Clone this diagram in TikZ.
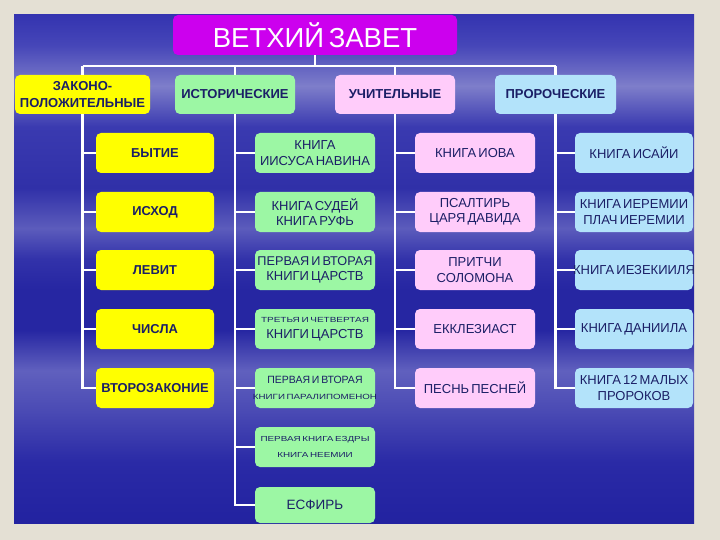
\documentclass[tikz,border=0pt]{standalone}
\usepackage{fontspec}
\setmainfont{Liberation Sans}[WordSpace=0.6]
\usepackage{graphicx}
\definecolor{pagebg}{HTML}{E4E0D4}
\definecolor{titlemag}{HTML}{CC00EE}
\definecolor{lawyel}{HTML}{FFFF00}
\definecolor{histgrn}{HTML}{9CF7A4}
\definecolor{wispink}{HTML}{FFCCFA}
\definecolor{prophblu}{HTML}{B3E3FA}
\definecolor{ink}{HTML}{1B1F66}
\definecolor{skyA}{HTML}{2222A0}
\definecolor{skyB}{HTML}{2A2AA6}
\definecolor{skyC}{HTML}{4A4AB4}
\definecolor{skyD}{HTML}{6060BE}
\definecolor{skyE}{HTML}{2626A2}
\definecolor{skyF}{HTML}{3232AA}
\definecolor{skyG}{HTML}{5C5CBC}
\definecolor{skyH}{HTML}{3030A8}
\definecolor{skyI}{HTML}{3A3AB0}
\definecolor{skyJ}{HTML}{7E7ECA}
\definecolor{skyK}{HTML}{4646B8}
\definecolor{skyL}{HTML}{3434B0}
\pgfdeclareverticalshading{sky}{100bp}{color(0bp)=(skyA); color(25bp)=(skyA); color(31bp)=(skyB); color(36bp)=(skyC); color(40bp)=(skyD); color(44bp)=(skyE); color(48bp)=(skyE); color(51bp)=(skyF); color(54bp)=(skyG); color(58bp)=(skyH); color(64bp)=(skyI); color(68bp)=(skyJ); color(72bp)=(skyK); color(75bp)=(skyL); color(100bp)=(skyL)}

\begin{document}
\begin{tikzpicture}[x=1pt,y=-1pt,
  headbox/.style={fill=titlemag, rounded corners=5pt, minimum width=284pt, minimum height=40pt, inner sep=0pt, text=white, font=\fontsize{27.5}{30}\selectfont},
  catbox/.style={rounded corners=5pt, minimum width=120pt, minimum height=39pt, inner sep=0pt, align=center, text=ink, font=\fontsize{13}{16.5}\selectfont\bfseries},
  bookbox/.style={rounded corners=5pt, minimum width=120pt, minimum height=40pt, inner sep=0pt, align=center, text=ink, font=\fontsize{13}{15.5}\selectfont},
  lawbox/.style={bookbox, minimum width=118pt, fill=lawyel, font=\fontsize{12.9}{15}\selectfont\bfseries},
  histbox/.style={bookbox, fill=histgrn},
  wisbox/.style={bookbox, fill=wispink},
  prophbox/.style={bookbox, minimum width=118pt, fill=prophblu},
  link/.style={draw=white, line width=2.5pt}]

\fill[pagebg] (0,0) rectangle (720,540);
\shade[shading=sky] (14,15) rectangle (694,523);
\useasboundingbox (0,0) rectangle (720,540);

\node[headbox] (title) at (315,35) {ВЕТХИЙ ЗАВЕТ};

\node[catbox, minimum width=135pt, fill=lawyel] (zak) at (82.5,94.5) {ЗАКОНО-\\ПОЛОЖИТЕЛЬНЫЕ};
\node[catbox, fill=histgrn] (ist) at (235,94.5) {ИСТОРИЧЕСКИЕ};
\node[catbox, fill=wispink] (uch) at (395,94.5) {УЧИТЕЛЬНЫЕ};
\node[catbox, minimum width=121pt, fill=prophblu] (pro) at (555.5,94.5) {ПРОРОЧЕСКИЕ};

\node[lawbox] (bytie) at (155,153) {БЫТИЕ};
\node[lawbox] (ishod) at (155,212) {ИСХОД};
\node[lawbox] (levit) at (155,270) {ЛЕВИТ};
\node[lawbox] (chisla) at (155,329) {ЧИСЛА};
\node[lawbox] (vtor) at (155,388) {ВТОРОЗАКОНИЕ};

\node[histbox] (iisus) at (315,153) {КНИГА\\ИИСУСА НАВИНА};
\node[histbox] (sudey) at (315,212) {КНИГА СУДЕЙ\\КНИГА РУФЬ};
\node[histbox] (carA) at (315,270) {\makebox[114pt]{\fontsize{12.7}{15.5}\selectfont ПЕРВАЯ И ВТОРАЯ}\\КНИГИ ЦАРСТВ};
\node[histbox] (carB) at (315,329) {\scalebox{1.35}[1]{\fontsize{7.4}{9}\selectfont ТРЕТЬЯ И ЧЕТВЕРТАЯ}\\[1pt]{\fontsize{13}{15.5}\selectfont КНИГИ ЦАРСТВ}};
\node[histbox] (paral) at (315,388) {{\fontsize{10.5}{15.5}\selectfont ПЕРВАЯ И ВТОРАЯ}\\\makebox[114pt]{\scalebox{1.3}[1]{\fontsize{7.5}{9}\selectfont КНИГИ ПАРАЛИПОМЕНОН}}};
\node[histbox] (ezdra) at (315,447) {\scalebox{1.35}[1]{\fontsize{7.3}{9}\selectfont ПЕРВАЯ КНИГА ЕЗДРЫ}\\\scalebox{1.35}[1]{\fontsize{7.3}{9}\selectfont КНИГА НЕЕМИИ}};
\node[histbox, minimum height=36pt, font=\fontsize{13.5}{15.5}\selectfont] (esfir) at (315,505) {ЕСФИРЬ};

\node[wisbox] (iov) at (475,153) {КНИГА ИОВА};
\node[wisbox] (psalt) at (475,212) {ПСАЛТИРЬ\\ЦАРЯ ДАВИДА};
\node[wisbox] (pritch) at (475,270) {ПРИТЧИ\\СОЛОМОНА};
\node[wisbox] (ekkl) at (475,329) {ЕККЛЕЗИАСТ};
\node[wisbox] (pesn) at (475,388) {ПЕСНЬ ПЕСНЕЙ};

\node[prophbox] (isaia) at (634,153) {КНИГА ИСАЙИ};
\node[prophbox] (ierem) at (634,212) {КНИГА ИЕРЕМИИ\\ПЛАЧ ИЕРЕМИИ};
\node[prophbox] (iezek) at (634,270) {\makebox[114pt]{КНИГА ИЕЗЕКИИЛЯ}};
\node[prophbox] (daniil) at (634,329) {КНИГА ДАНИИЛА};
\node[prophbox] (malyh) at (634,388) {КНИГА 12 МАЛЫХ\\ПРОРОКОВ};

\coordinate (bar) at (315,66);
\draw[link] (title.south) -- (bar);
\draw[link] (zak.north |- bar) -- (pro.north |- bar);
\draw[link] (zak.north |- bar) -- (zak.north);
\draw[link] (ist.north |- bar) -- (ist.north);
\draw[link] (uch.north |- bar) -- (uch.north);
\draw[link] (pro.north |- bar) -- (pro.north);

\draw[link] (zak.south) -- (zak.south |- vtor) -- (vtor.west);
\draw[link] (zak.south |- bytie) -- (bytie.west);
\draw[link] (zak.south |- ishod) -- (ishod.west);
\draw[link] (zak.south |- levit) -- (levit.west);
\draw[link] (zak.south |- chisla) -- (chisla.west);

\draw[link] (ist.south) -- (ist.south |- esfir) -- (esfir.west);
\draw[link] (ist.south |- iisus) -- (iisus.west);
\draw[link] (ist.south |- sudey) -- (sudey.west);
\draw[link] (ist.south |- carA) -- (carA.west);
\draw[link] (ist.south |- carB) -- (carB.west);
\draw[link] (ist.south |- paral) -- (paral.west);
\draw[link] (ist.south |- ezdra) -- (ezdra.west);

\draw[link] (uch.south) -- (uch.south |- pesn) -- (pesn.west);
\draw[link] (uch.south |- iov) -- (iov.west);
\draw[link] (uch.south |- psalt) -- (psalt.west);
\draw[link] (uch.south |- pritch) -- (pritch.west);
\draw[link] (uch.south |- ekkl) -- (ekkl.west);

\draw[link] (pro.south) -- (pro.south |- malyh) -- (malyh.west);
\draw[link] (pro.south |- isaia) -- (isaia.west);
\draw[link] (pro.south |- ierem) -- (ierem.west);
\draw[link] (pro.south |- iezek) -- (iezek.west);
\draw[link] (pro.south |- daniil) -- (daniil.west);
\end{tikzpicture}
\end{document}
